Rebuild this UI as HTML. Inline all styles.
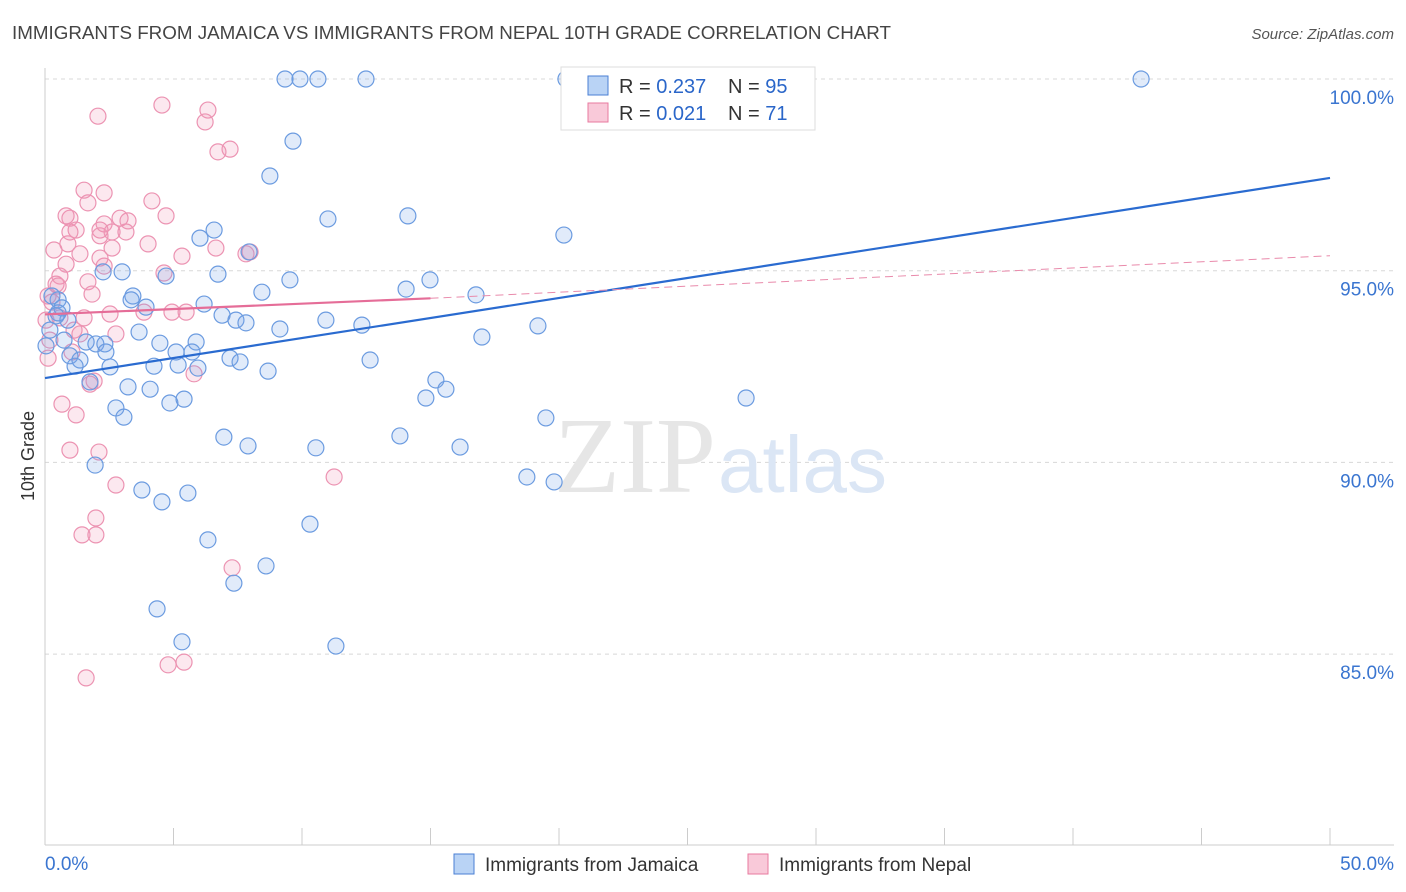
<!DOCTYPE html>
<html><head><meta charset="utf-8"><style>
body{margin:0;background:#fff;font-family:"Liberation Sans",sans-serif;}
svg{display:block}
</style></head><body>
<svg id="chart" width="1406" height="892">
<text x="12" y="39" font-size="18.8" fill="#444">IMMIGRANTS FROM JAMAICA VS IMMIGRANTS FROM NEPAL 10TH GRADE CORRELATION CHART</text>
<text x="1394" y="39" font-size="15" fill="#555" text-anchor="end" font-style="italic">Source: ZipAtlas.com</text>
<text x="34" y="456" font-size="18" fill="#333" text-anchor="middle" transform="rotate(-90 34 456)">10th Grade</text>
<g id="grid"></g>
<text x="716" y="492" font-size="108" fill="#e6e6e6" text-anchor="end" font-family="Liberation Serif,serif">ZIP</text>
<text x="718" y="492" font-size="80" fill="#dbe6f5">atlas</text>
<g id="marks"></g>
<g>
<rect x="561" y="67" width="254" height="63" fill="#fff" stroke="#ddd"/>
<rect x="588" y="76" width="20" height="19" fill="#b9d3f5" stroke="#4a7fd4"/>
<rect x="588" y="103" width="20" height="19" fill="#f9c9d9" stroke="#e87a9f"/>
<text x="619" y="93" font-size="20" fill="#333">R = <tspan fill="#2a66c9">0.237</tspan></text>
<text x="728" y="93" font-size="20" fill="#333">N = <tspan fill="#2a66c9"> 95</tspan></text>
<text x="619" y="120" font-size="20" fill="#333">R = <tspan fill="#2a66c9">0.021</tspan></text>
<text x="728" y="120" font-size="20" fill="#333">N = <tspan fill="#2a66c9"> 71</tspan></text>
</g>
<g>
<rect x="454" y="854" width="20" height="20" fill="#b9d3f5" stroke="#4a7fd4"/>
<text x="485" y="871" font-size="19" fill="#333">Immigrants from Jamaica</text>
<rect x="748" y="854" width="20" height="20" fill="#f9c9d9" stroke="#e87a9f"/>
<text x="779" y="871" font-size="19" fill="#333">Immigrants from Nepal</text>
</g>
<text x="45" y="870" font-size="19" fill="#3a75d0">0.0%</text>
<text x="1394" y="870" font-size="19" fill="#3a75d0" text-anchor="end">50.0%</text>
</svg>
<script>
const jamX=[9.34,9.92,10.62,12.49,20.27,42.65,9.65,8.75,11.01,14.12,20.19,6.58,6.03,7.94,3.00,2.26,4.71,6.73,9.53,8.44,14.05,14.98,16.77,3.42,3.35,3.93,6.19,0.51,0.27,0.66,6.89,7.43,7.82,10.93,12.33,9.14,19.18,17.00,3.66,0.89,0.51,1.98,2.33,1.60,4.47,5.88,5.10,5.72,0.97,1.36,1.17,2.53,4.24,5.18,5.95,7.20,7.59,8.68,12.65,1.75,3.23,4.09,15.21,15.60,14.82,27.28,2.76,4.86,5.41,3.07,19.49,6.96,7.90,10.54,13.81,16.15,1.95,3.77,5.56,4.55,18.75,19.81,10.31,6.34,8.60,7.35,4.36,5.33,11.32,0.04,0.19,0.43,0.74,2.37];
const jamY=[100,100,100,100,100,100,98.38,97.47,96.35,96.43,95.93,96.06,95.85,95.49,94.97,94.97,94.86,94.91,94.76,94.44,94.52,94.76,94.37,94.34,94.24,94.05,94.13,94.24,94.34,94.03,93.84,93.71,93.64,93.71,93.58,93.48,93.56,93.27,93.40,93.71,93.90,93.09,93.09,93.14,93.11,93.14,92.88,92.88,92.78,92.67,92.51,92.49,92.51,92.54,92.46,92.72,92.62,92.38,92.67,92.10,91.97,91.91,92.15,91.91,91.68,91.68,91.42,91.55,91.65,91.18,91.16,90.66,90.43,90.38,90.69,90.40,89.93,89.28,89.20,88.97,89.62,89.49,88.39,87.98,87.30,86.85,86.18,85.32,85.21,93.04,93.45,93.82,93.19,92.88];
const nepX=[4.55,6.34,2.06,6.23,7.20,6.73,1.52,2.30,4.16,1.67,0.97,2.92,3.23,4.71,1.21,2.30,2.61,2.14,3.15,0.35,0.89,1.36,4.01,6.65,7.82,0.82,2.30,2.14,5.33,0.58,1.67,4.63,0.43,1.83,0.12,0.27,3.85,4.94,5.49,2.53,0.58,1.13,2.76,1.36,0.19,1.05,0.12,5.80,1.91,1.75,0.66,1.21,0.97,2.10,11.25,2.76,1.98,1.44,1.98,7.28,4.79,5.41,1.60,0.82,2.61,2.14,0.97,7.98,0.51,1.52,0.04];
const nepY=[99.32,99.19,99.03,98.88,98.17,98.10,97.10,97.03,96.82,96.77,96.37,96.37,96.30,96.43,96.06,96.22,96.01,95.91,96.01,95.54,95.70,95.44,95.70,95.59,95.44,95.17,95.12,95.33,95.38,94.86,94.71,94.94,94.65,94.39,94.34,94.18,93.92,93.92,93.92,93.87,93.77,93.45,93.35,93.35,93.19,92.88,92.72,92.31,92.12,92.04,91.52,91.24,90.32,90.27,89.62,89.41,88.55,88.11,88.11,87.25,84.72,84.79,84.38,96.43,95.59,96.06,96.01,95.49,94.60,93.77,93.71];
const yTicks=[100,95,90,85];
const yTickLabels=["100.0%","95.0%","90.0%","85.0%"];
const xTicks=[0,5,10,15,20,25,30,35,40,45,50];
const jamTrend=[92.20,97.42];
const nepTrend=[93.86,94.28,95.39];
const nepSolidEnd=15;

const NS="http://www.w3.org/2000/svg";
const X=v=>45+v*25.7;
const Y=v=>79+(100-v)*38.34;
function mk(t,a,p){const e=document.createElementNS(NS,t);for(const k in a)e.setAttribute(k,a[k]);p.appendChild(e);return e;}
const grid=document.getElementById('grid'),marks=document.getElementById('marks');
yTicks.forEach((t,i)=>{
  const l=mk('line',{x1:45,x2:1394,y1:Y(t),y2:Y(t),stroke:'#d8d8d8','stroke-dasharray':'4 4'},grid);
  
  
  const tx=mk('text',{x:1394,y:Y(t)+25,'font-size':19,fill:'#3a75d0','text-anchor':'end'},grid);
  tx.textContent=yTickLabels[i];
  
  
});
const ax=mk('line',{x1:45,x2:1394,y1:845,y2:845,stroke:'#ccc'},grid);


const ay=mk('line',{x1:45,x2:45,y1:68,y2:845,stroke:'#ccc'},grid);


xTicks.forEach(t=>{
  const l=mk('line',{x1:X(t),x2:X(t),y1:828,y2:845,stroke:'#ccc'},grid);
  
  
});
nepX.forEach((x,i)=>{
  const c=mk('circle',{cx:X(x),cy:Y(nepY[i]),r:8,fill:'rgba(240,150,180,0.22)',stroke:'#ec93b2','stroke-width':1.2},marks);
  
  
});
jamX.forEach((x,i)=>{
  const c=mk('circle',{cx:X(x),cy:Y(jamY[i]),r:8,fill:'rgba(120,165,230,0.22)',stroke:'#6b9be0','stroke-width':1.2},marks);
  
  
});
const t1=mk('line',{x1:X(0),y1:Y(jamTrend[0]),x2:X(50),y2:Y(jamTrend[1]),stroke:'#2a6bd0','stroke-width':2.2},marks);


const t2=mk('line',{x1:X(0),y1:Y(nepTrend[0]),x2:X(nepSolidEnd),y2:Y(nepTrend[1]),stroke:'#e56d98','stroke-width':2.2},marks);


const t3=mk('line',{x1:X(nepSolidEnd),y1:Y(nepTrend[1]),x2:X(50),y2:Y(nepTrend[2]),stroke:'#e98aab','stroke-width':1,'stroke-dasharray':'8 5'},marks);


</script>
</body></html>
